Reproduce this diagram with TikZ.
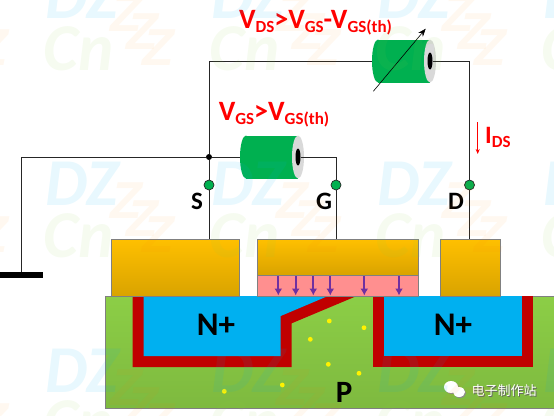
\documentclass[tikz,border=0pt]{standalone}
\usepackage{fontspec}
\usepackage{xcolor}
\usetikzlibrary{arrows.meta,positioning,shapes.geometric}
\setmainfont{Carlito}
\newfontfamily\cjkfont{Noto Sans CJK SC}
\newfontfamily\markfont{Liberation Sans}
\definecolor{wirecol}{RGB}{38,38,38}
\definecolor{batgreen}{RGB}{0,176,80}
\definecolor{chanred}{RGB}{192,0,0}
\definecolor{nplus}{RGB}{0,176,240}
\definecolor{oxpink}{RGB}{255,143,143}
\definecolor{fieldpurple}{RGB}{112,48,160}
\definecolor{bodygreen}{RGB}{140,206,70}
\definecolor{goldtop}{RGB}{255,192,0}
\definecolor{goldlow}{RGB}{217,163,0}
\newcommand{\lowsub}[1]{\raisebox{-0.16em}{\fontsize{17pt}{17pt}\selectfont #1}}
\newcommand{\drawbat}[3]{
  \fill[batgreen] (#2-52,#3) ellipse (6pt and 21.5pt);
  \fill[batgreen] (#2-52,#3-21.5) rectangle (#2,#3+21.5);
  \fill[black!15] (#2,#3) ellipse (6pt and 21.5pt);
  \node[hole] (#1hole) at (#2,#3) {};
  \coordinate (#1left) at (#2-58,#3);
}

\begin{document}
\begin{tikzpicture}[
    x=1pt,y=-1pt,
    wire/.style={draw=wirecol,line width=0.9pt},
    metal/.style={rectangle,draw=gray,line width=0.6pt,top color=goldtop,bottom color=goldlow,inner sep=0pt},
    oxide/.style={rectangle,draw=gray,line width=0.6pt,fill=oxpink,inner sep=0pt},
    term/.style={circle,draw=wirecol,fill=batgreen,line width=0.7pt,minimum size=10pt,inner sep=0pt},
    hole/.style={ellipse,fill=black,minimum width=5pt,minimum height=17pt,inner sep=0pt},
    redlabel/.style={text=red,font=\fontsize{28pt}{28pt}\selectfont\bfseries,inner sep=0pt,anchor=base},
    blacklabel/.style={text=black,font=\fontsize{25pt}{25pt}\selectfont\bfseries,inner sep=0pt},
    bigN/.style={text=black,font=\fontsize{33pt}{33pt}\selectfont\bfseries,inner sep=0pt},
    field/.style={-{Latex[length=7pt,width=8pt]},draw=fieldpurple,line width=1.7pt}
  ]
    \useasboundingbox (0,0) rectangle (554,415);

    \node[rectangle,draw=gray,line width=0.6pt,top color=bodygreen,bottom color=bodygreen!90!black,minimum width=452pt,minimum height=112pt,inner sep=0pt] (pbody) at (331,352) {};
    \fill[chanred] (132.7,296) -- (132.7,367) -- (291.7,367) -- (291.7,323.3) -- (356.7,296) -- cycle;
    \fill[nplus] (143.7,296) -- (143.7,356) -- (280.7,356) -- (280.7,316) -- (328,296) -- cycle;
    \fill[chanred] (373,296) rectangle (533,367);
    \fill[nplus] (384,296) rectangle (522,356);
    \foreach \x/\y in {329.3/321,364/327.7,310.3/339.3,328.3/364.3,359/373.3,282.3/385,224.3/391.3}
      \fill[yellow] (\x,\y) circle (2.4pt);

    \node[metal,minimum width=128pt,minimum height=57pt] (smetal) at (175,267.5) {};
    \node[metal,minimum width=161pt,minimum height=36pt] (gmetal) at (337.5,257) {};
    \node[oxide,minimum width=161pt,minimum height=21pt,below=0pt of gmetal] (oxlayer) {};
    \node[metal,minimum width=60pt,minimum height=57pt] (dmetal) at (470,267.5) {};
    \foreach \x in {278.3,295.7,313.3,330.3,364.3,399}
      \draw[field] (\x,276) -- (\x,295.5);

    \node[bigN] (nleft) at (216,325) {N+};
    \node[bigN] (nright) at (453,325) {N+};
    \node[blacklabel,font=\fontsize{31pt}{31pt}\selectfont\bfseries] (plabel) at (344,392) {P};

    \drawbat{vgs}{298}{157}
    \drawbat{vds}{430}{61}

    \node[circle,fill=black,minimum size=6pt,inner sep=0pt] (junc) at (209,157) {};
    \node[term] (sterm) at (209,185) {};
    \node[term] (gterm) at (336,185) {};
    \node[term] (dterm) at (469.5,185) {};
    \node[rectangle,fill=black,minimum width=43pt,minimum height=6pt,inner sep=0pt] (gndbar) at (21.5,275) {};

    \draw[wire] (gndbar.north) |- (junc);
    \draw[wire] (junc) -- (vgsleft);
    \draw[wire] (junc) |- (vdsleft);
    \draw[wire] (junc) -- (sterm);
    \draw[wire] (sterm) -- (sterm |- smetal.north);
    \draw[wire] (vgshole.east) -| (gterm);
    \draw[wire] (gterm) -- (gterm |- gmetal.north);
    \draw[wire] (vdshole.east) -| (dterm);
    \draw[wire] (dterm) -- (dterm |- dmetal.north);

    \coordinate (tunelow) at (373.3,91.3);
    \coordinate (tunehigh) at (425.7,28.7);
    \draw[-{Stealth[length=8pt,width=6pt]},draw=black,line width=0.6pt] (tunelow) -- (tunehigh);
    \coordinate (idstop) at (477.7,122);
    \coordinate (idsend) at (477.7,154);
    \draw[-{Stealth[length=5pt,width=4pt]},draw=red,line width=0.6pt] (idstop) -- (idsend);

    \node[redlabel] (vdslabel) at (315.5,28.5) {V\lowsub{DS}>V\lowsub{GS}-V\lowsub{GS(th)}};
    \node[redlabel] (vgslabel) at (274,120) {V\lowsub{GS}>V\lowsub{GS(th)}};
    \node[redlabel,font=\fontsize{25pt}{25pt}\selectfont\bfseries,anchor=base west] (idslabel) at (485,143.5) {I\lowsub{DS}};
    \node[blacklabel] (slabel) at (197,201) {S};
    \node[blacklabel] (glabel) at (324,201) {G};
    \node[blacklabel] (dlabel) at (456,201) {D};

    \fill[black!45] (452,388) ellipse (7pt and 6pt) (460,393) ellipse (6pt and 5pt);
    \fill[white] (451,387) ellipse (7pt and 6pt) (459,392) ellipse (6pt and 5pt);
    \node[text=black!60,font=\cjkfont\fontsize{13pt}{13pt}\selectfont,inner sep=0pt] (logoshadow) at (505,392) {电子制作站};
    \node[text=white,font=\cjkfont\fontsize{13pt}{13pt}\selectfont,inner sep=0pt] (logotext) at (504,391) {电子制作站};

    \foreach \col in {-1,0,1,2,3}
      \foreach \row in {0,1,2}
      {
        \pgfmathsetmacro{\mx}{82+166*\col}
        \pgfmathsetmacro{\my}{-3.5+187*\row}
        \node[text=nplus,text opacity=0.09,font=\fontsize{67pt}{67pt}\selectfont\bfseries\itshape,inner sep=0pt] (dz\col\row) at (\mx,\my) {DZ};
        \node[text=bodygreen,text opacity=0.08,font=\fontsize{67pt}{67pt}\selectfont\bfseries\itshape,inner sep=0pt] (cn\col\row) at (\mx-3,\my+52) {Cn};
        \foreach \dx/\dy/\k in {44/17/a,60/35/b,76/51/c}
          \node[text=orange,text opacity=0.06,font=\markfont\fontsize{52pt}{52pt}\selectfont\bfseries\itshape,inner sep=0pt] (zz\col\row\k) at (\mx+\dx,\my+\dy) {Z};
      }
  \end{tikzpicture}
\end{document}
